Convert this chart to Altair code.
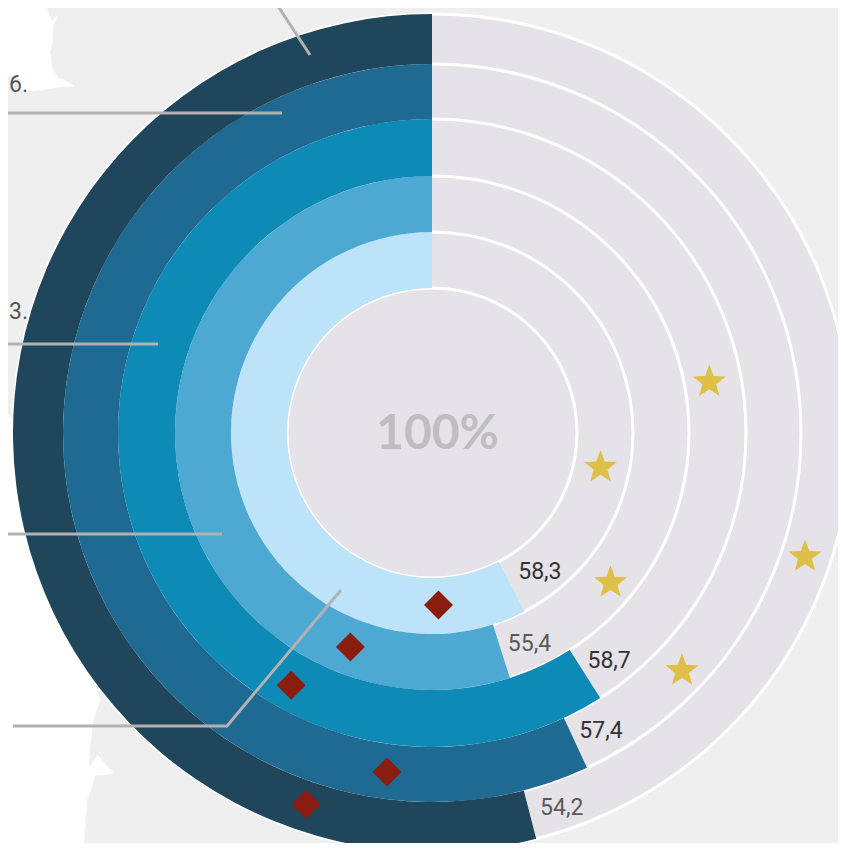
import altair as alt
import pandas as pd

# ---- chart values (rings run from the innermost to the outermost) ----
ring_values = [57.6, 54.9, 59.0, 56.9, 54.0]
ring_labels = ["58,3", "55,4", "58,7", "57,4", "54,2"]
ring_colors = ["#bde3f8", "#4ea9d2", "#0d8ab6", "#1f6a92", "#20465b"]
label_dark = ["#333333", "#5a5a5a", "#333333", "#333333", "#5a5a5a"]
label_pct = [60.5, 56.9, 60.5, 58.2, 55.3]
label_radius = [176, 232, 289, 343, 397]
star_values = [71.8, 63.9, 77.9, 62.9, 69.9]
star_radius = [172, 233, 282, 345, 393]
diamond_values = [50.6, 44.2, 41.9, 47.9, 44.8]
diamond_radius = [172, 229, 289, 342, 392]

# ---- ring geometry and page layout ----
ring_edges = [145, 201, 257, 314, 369, 419]
CX, CY = 432, 433
W, H = 830, 835
xs = alt.Scale(domain=[8, 838], range=[0, W], nice=False, zero=False)
ys = alt.Scale(domain=[8, 843], range=[0, H], nice=False, zero=False)
ts = alt.Scale(domain=[0, 100], range=[0, 6.283185307], nice=False, zero=False)
rs = alt.Scale(domain=[0, 430], range=[0, 430], nice=False, zero=False)
X = lambda f: alt.X(f, scale=xs, axis=None)
Y = lambda f: alt.Y(f, scale=ys, axis=None)

# ---- background map shapes and leader lines ----
coast_a = [(0, 358), (3, 362), (3, 368), (0, 370)]
coast_b = [(0, 409), (8, 413), (14, 424), (60, 560), (100, 700), (93, 720), (90, 745), (89, 768),
           (98, 755), (106, 765), (113, 773), (104, 775), (95, 775), (90, 792), (87, 800), (83, 851), (0, 851)]
coast_c = [(0, 8), (47, 8), (50, 18), (52, 21), (57, 17), (53, 25), (52, 45), (50, 52), (52, 68),
           (58, 78), (66, 81), (74, 86), (60, 87), (42, 90), (26, 91), (18, 88), (20, 78), (0, 74)]
leaders = {
    "a": [(274, 0), (310, 55)],
    "b": [(8, 113), (282, 113)],
    "c": [(0, 344), (158, 344)],
    "d": [(7, 534), (222, 534)],
    "e": [(13, 726), (227, 726), (341, 590)],
}

shape_rows = [dict(g=n, o=i, x=p[0], y=p[1])
              for n, pts in (("a", coast_a), ("b", coast_b), ("c", coast_c))
              for i, p in enumerate(pts + [pts[0]])]
shapes = alt.Chart(pd.DataFrame(shape_rows)).mark_line(
    fill="white", stroke="white", strokeWidth=0.5, interpolate="linear"
).encode(x=X("x:Q"), y=Y("y:Q"), detail="g:N", order="o:Q")

discs = alt.Chart(pd.DataFrame({"r": ring_edges[::-1]})).transform_calculate(
    s="pow(2 * datum.r, 2)", cx=str(CX), cy=str(CY)
).mark_point(filled=True, shape="circle", fill="#e5e3e8", stroke="white", strokeWidth=3, opacity=1).encode(
    x=X("cx:Q"), y=Y("cy:Q"), size=alt.Size("s:Q", scale=None), order=alt.Order("o:Q")
).transform_calculate(o="-datum.r")

arc_df = pd.DataFrame({
    "start": [100 - v for v in ring_values],
    "end": [100] * 5,
    "inner": ring_edges[:-1],
    "outer": ring_edges[1:],
    "color": ring_colors,
    "cx": [CX] * 5,
    "cy": [CY] * 5,
})
arcs = alt.Chart(arc_df).mark_arc(stroke=None).encode(
    x=X("cx:Q"), y=Y("cy:Q"),
    theta=alt.Theta("start:Q", scale=ts, stack=None),
    theta2=alt.Theta2("end:Q"),
    radius=alt.Radius("outer:Q", scale=rs),
    radius2=alt.Radius2("inner:Q"),
    color=alt.Color("color:N", scale=None),
)


def polar(df):
    return alt.Chart(df).transform_calculate(
        a="2 * PI * (1 - datum.pct / 100)",
        px=f"{CX} + datum.r * sin(datum.a)",
        py=f"{CY} - datum.r * cos(datum.a)",
    )


stars = polar(pd.DataFrame({"pct": star_values, "r": star_radius})).mark_point(
    filled=True, opacity=1, color="#dec048", strokeWidth=0,
    shape="M0,-1L0.247,-0.34L0.951,-0.309L0.399,0.13L0.588,0.809L0,0.42L-0.588,0.809L-0.399,0.13L-0.951,-0.309L-0.247,-0.34Z",
    size=1210,
).encode(x=X("px:Q"), y=Y("py:Q"))

diamonds = polar(pd.DataFrame({"pct": diamond_values, "r": diamond_radius})).mark_point(
    filled=True, opacity=1, color="#8b1c10", strokeWidth=0, shape="diamond", size=841,
).encode(x=X("px:Q"), y=Y("py:Q"))

labels = polar(pd.DataFrame({"pct": label_pct, "r": label_radius, "t": ring_labels, "c": label_dark})).mark_text(
    font="Roboto", fontSize=23, align="center", baseline="middle"
).encode(x=X("px:Q"), y=Y("py:Q"), text="t:N", color=alt.Color("c:N", scale=None))

leader_rows = [dict(g=k, o=i, x=p[0], y=p[1]) for k, pts in leaders.items() for i, p in enumerate(pts)]
lines = alt.Chart(pd.DataFrame(leader_rows)).mark_line(color="#b2b2b2", strokeWidth=3).encode(
    x=X("x:Q"), y=Y("y:Q"), detail="g:N", order="o:Q"
)

center = alt.Chart(pd.DataFrame({"t": ["100%"], "x": [437.5], "y": [435]})).mark_text(
    font="Lato", fontWeight="bold", fontSize=48, color="#bfbdc1", align="center", baseline="middle"
).encode(x=X("x:Q"), y=Y("y:Q"), text="t:N")

side = alt.Chart(pd.DataFrame({"t": ["6.", "3."], "x": [9, 9], "y": [85, 312]})).mark_text(
    font="Roboto", fontSize=23, color="#555555", align="left", baseline="middle"
).encode(x=X("x:Q"), y=Y("y:Q"), text="t:N")

chart = alt.layer(shapes, side, discs, arcs, stars, diamonds, labels, lines, center).properties(
    width=W, height=H, background="#efefef", padding=0,
    autosize=alt.AutoSizeParams(type="none"),
).configure_view(stroke=None)

chart.save("out.html", embed_options={"renderer": "svg", "actions": False})
